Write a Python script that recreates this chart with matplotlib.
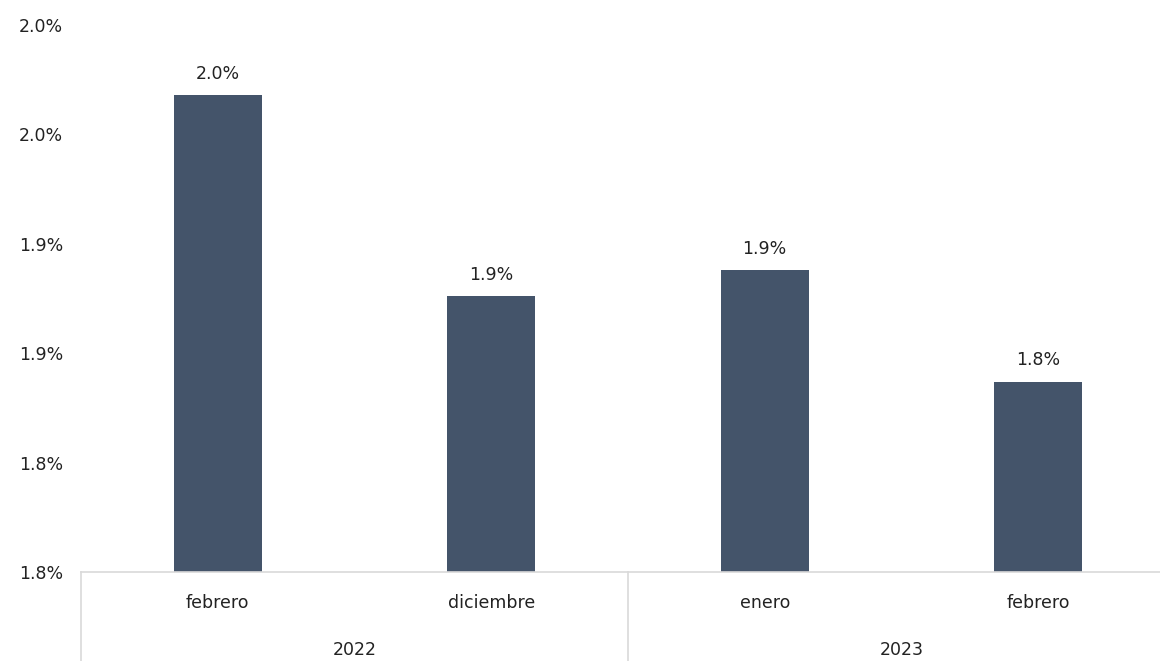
import matplotlib
matplotlib.use("Agg")
import matplotlib.pyplot as plt

MONTHS = ["febrero", "diciembre", "enero", "febrero"]
YEARS = ["2022", "2023"]
YEAR_SPAN = [2, 2]
VALUES = [1.968, 1.876, 1.888, 1.837]
Y_TICKS = [1.75, 1.80, 1.85, 1.90, 1.95, 2.00]
Y_TICK_LABELS = ["1.8%", "1.8%", "1.9%", "1.9%", "2.0%", "2.0%"]

BAR_COLOR = "#44546a"
LINE_COLOR = "#d9d9d9"
TEXT_COLOR = "#222222"

plt.rcParams["font.family"] = ["DejaVu Sans"]
plt.rcParams["font.size"] = 12.5


def main() -> None:
    fig = plt.figure(figsize=(11.6, 6.61), dpi=100)
    W, H = 1160, 661
    left, right, top, bottom = 81, 1175, 25, 572
    ax = fig.add_axes([left / W, 1 - bottom / H, (right - left) / W, (bottom - top) / H])

    x = list(range(len(MONTHS)))
    bars = ax.bar(x, VALUES, width=0.32, color=BAR_COLOR, zorder=2)
    ax.bar_label(bars, labels=[f"{v:.1f}%" for v in VALUES], padding=9, color=TEXT_COLOR)

    ax.set_xlim(-0.5, len(MONTHS) - 0.5)
    ax.set_ylim(Y_TICKS[0], Y_TICKS[-1])
    ax.set_yticks(Y_TICKS)
    ax.set_yticklabels(Y_TICK_LABELS, color=TEXT_COLOR)
    ax.tick_params(axis="y", length=0, pad=13)
    ax.set_xticks([])

    for side in ("left", "right", "top"):
        ax.spines[side].set_visible(False)
    ax.spines["bottom"].set_color(LINE_COLOR)
    ax.spines["bottom"].set_linewidth(1.2)

    trans = ax.get_xaxis_transform()
    px = 1 / (bottom - top)
    for i, m in enumerate(MONTHS):
        ax.text(i, -31 * px, m, transform=trans, ha="center", va="center", color=TEXT_COLOR)

    start = 0
    for year, span in zip(YEARS, YEAR_SPAN):
        ax.plot([start - 0.5, start - 0.5], [0, -0.17], transform=trans,
                color=LINE_COLOR, lw=1.2, clip_on=False)
        ax.text(start + span / 2 - 0.5, -78 * px, year, transform=trans,
                ha="center", va="center", color=TEXT_COLOR)
        start += span
    ax.plot([start - 0.5, start - 0.5], [0, -0.17], transform=trans,
            color=LINE_COLOR, lw=1.2, clip_on=False)

    fig.savefig("out.png", dpi=100)
    plt.close(fig)


if __name__ == "__main__":
    main()
